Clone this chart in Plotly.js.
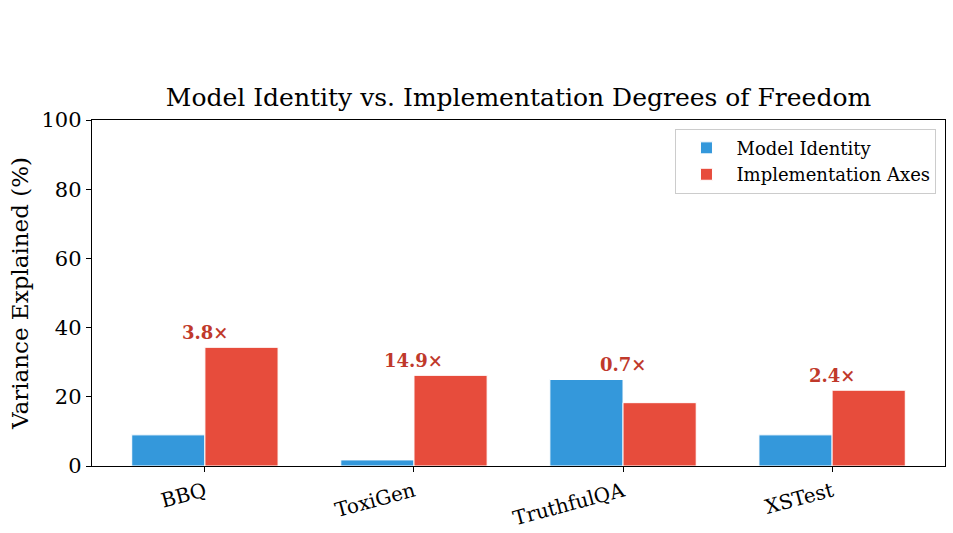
<!DOCTYPE html>
<html>
<head>
<meta charset="utf-8">
<script src="https://cdn.plot.ly/plotly-3.0.1.min.js"></script>
<style>html,body{margin:0;padding:0;background:#fff;}#chart{width:953px;height:533px;}</style>
</head>
<body>
<div id="chart"></div>
<script>
const categories = ["BBQ", "ToxiGen", "TruthfulQA", "XSTest"];
const modelIdentity = [9.0, 1.76, 25.0, 9.0];
const implementationAxes = [34.3, 26.2, 18.3, 21.9];
const ratioLabels = ["3.8×", "14.9×", "0.7×", "2.4×"];
const yTicks = [0, 20, 40, 60, 80, 100];

const font = "'DejaVu Serif', serif";
const xIdx = categories.map((c, i) => i);

const traces = [
  {type: "bar", name: "Model Identity", x: xIdx, y: modelIdentity,
   marker: {color: "#3498db", line: {color: "#ffffff", width: 1}}},
  {type: "bar", name: "Implementation Axes", x: xIdx, y: implementationAxes,
   marker: {color: "#e74c3c", line: {color: "#ffffff", width: 1}}}
];

const annotations = ratioLabels.map((t, i) => ({
  x: i, y: Math.max(modelIdentity[i], implementationAxes[i]) + 0.6,
  xref: "x", yref: "y", text: "<b>" + t + "</b>", showarrow: false,
  yanchor: "bottom", xanchor: "center",
  font: {family: font, size: 18, color: "#c0392b"}
}));

const layout = {
  width: 953, height: 533,
  margin: {l: 92, r: 8, t: 120, b: 67},
  paper_bgcolor: "#fff", plot_bgcolor: "#fff",
  font: {family: font, size: 20, color: "#000"},
  title: {text: "Model Identity vs. Implementation Degrees of Freedom",
          font: {family: font, size: 25, color: "#000"},
          x: 0.5, xref: "paper", xanchor: "center",
          y: 1, yref: "paper", yanchor: "bottom", pad: {b: 14}},
  barmode: "group", bargap: 0.3, bargroupgap: 0,
  xaxis: {range: [-0.54, 3.54], tickmode: "array", tickvals: xIdx, ticktext: categories,
          tickangle: -15, ticks: "outside", ticklen: 5, tickcolor: "#000",
          showline: true, linecolor: "#000", linewidth: 1.3, mirror: true,
          showgrid: false, zeroline: false, tickfont: {family: font, size: 20}},
  yaxis: {range: [0, 100], tickmode: "array", tickvals: yTicks,
          ticks: "outside", ticklen: 5, tickcolor: "#000",
          showline: true, linecolor: "#000", linewidth: 1.3, mirror: true,
          showgrid: false, zeroline: false, tickfont: {family: font, size: 21},
          title: {text: "Variance Explained (%)", font: {family: font, size: 23}, standoff: 6}},
  legend: {x: 0.99, y: 0.975, xanchor: "right", yanchor: "top",
           bgcolor: "rgba(255,255,255,0.9)", bordercolor: "#cccccc", borderwidth: 1,
           itemwidth: 50,
           font: {family: font, size: 18}, traceorder: "normal"},
  annotations: annotations,
  showlegend: true
};

Plotly.newPlot("chart", traces, layout, {displayModeBar: false, staticPlot: true});
</script>
</body>
</html>
